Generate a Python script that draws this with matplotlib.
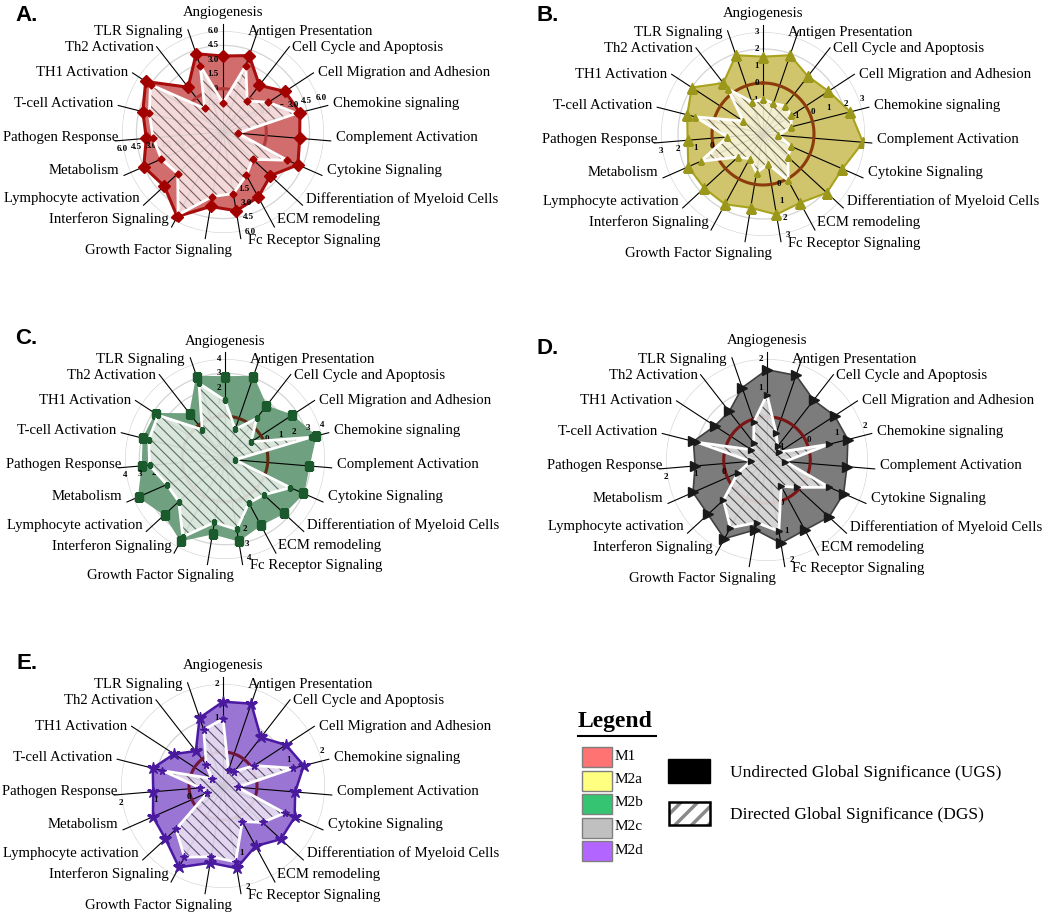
import numpy as np
import matplotlib
matplotlib.use("Agg")
import matplotlib.pyplot as plt
from matplotlib.patches import Rectangle

plt.rcParams['font.family'] = ['Liberation Serif', 'DejaVu Serif']
plt.rcParams['hatch.linewidth'] = 0.8

categories = ["Angiogenesis", "Antigen Presentation", "Cell Cycle and Apoptosis",
              "Cell Migration and Adhesion", "Chemokine signaling", "Complement Activation",
              "Cytokine Signaling", "Differentiation of Myeloid Cells", "ECM remodeling",
              "Fc Receptor Signaling", "Growth Factor Signaling", "Interferon Signaling",
              "Lymphocyte activation", "Metabolism", "Pathogen Response", "T-cell Activation",
              "TH1 Activation", "Th2 Activation", "TLR Signaling"]

# undirected / directed global significance per macrophage subtype
m1_ugs = [3.4, 3.9, 1.65, 3.2, 3.75, 3.5, 4.0, 2.2, 3.2, 3.8, 3.35, 5.5, 3.8, 4.5, 3.5, 4.1, 5.1, 1.4, 4.1]
m1_dgs = [-1.5, 2.8, -0.4, 1.15, 3.4, -2.95, 2.8, -0.3, 0.6, 2.0, 2.3, 5.3, 1.9, 2.5, 2.8, 3.4, 4.5, -1.4, 2.8]

m2a_ugs = [1.55, 1.9, 1.3, 1.6, 2.3, 2.9, 2.1, 2.1, 1.6, 1.8, 1.4, 1.7, 1.7, 1.8, 1.45, 1.6, 2.0, 0.8, 1.9]
m2a_dgs = [-0.95, -1.1, -0.9, -1.0, -1.3, -2.1, -1.2, -1.0, 0.1, -1.2, -0.7, -1.35, -1.0, 1.0, -0.9, 1.1, -1.6, 0.35, -1.0]

m2b_ugs = [2.75, 3.1, 1.7, 2.6, 3.55, 2.9, 3.0, 2.6, 2.25, 2.8, 2.3, 3.5, 2.75, 3.6, 2.8, 2.9, 2.8, 1.0, 3.1]
m2b_dgs = [1.1, -0.8, 0.6, -0.8, 3.2, -2.3, 2.0, 0.7, 0.5, 2.0, 1.5, 3.2, 1.4, 1.45, 2.3, 2.5, 2.6, -0.4, 2.6]

m2c_ugs = [1.63, 1.6, 1.13, 1.3, 1.39, 1.28, 1.4, 1.42, 1.26, 1.42, 0.95, 1.6, 1.28, 1.3, 1.0, 1.13, 0.66, 0.63, 1.15]
m2c_dgs = [0.76, -0.52, -0.9, -1.0, 0.7, -0.87, 0.85, -0.1, -0.47, 1.0, 0.7, 1.17, 0.55, -0.4, -0.93, 1.0, -0.85, -0.75, -0.1]

m2d_ugs = [1.48, 1.56, 0.81, 1.21, 1.45, 1.13, 1.3, 1.31, 1.01, 1.45, 1.29, 1.72, 1.3, 1.25, 1.06, 1.13, 0.72, 0.3, 1.12]
m2d_dgs = [0.97, -0.5, -0.46, 0.1, 1.13, -0.57, 0.98, 0.58, 0.19, 1.26, 1.11, 1.38, 0.88, -0.5, -0.33, 0.84, -0.6, -0.2, 0.75]

# radial scales
m1_ticks = [-3.0, -1.5, 0.0, 1.5, 3.0, 4.5, 6.0]
m2a_ticks = [-2, -1, 0, 1, 2, 3]
m2b_ticks = [-2, -1, 0, 1, 2, 3, 4]
m2c_ticks = [-1, 0, 1, 2]
m2d_ticks = [0, 1, 2]

legend_names = ["M1", "M2a", "M2b", "M2c", "M2d"]
legend_colors = ["#ff7373", "#ffff80", "#35c472", "#c0c0c0", "#b266ff"]

FIG_W, FIG_H = 1050, 915

# label placement tweaks for some spokes: index -> (x offset, y offset, ha), in axes fraction
LABEL_NUDGE = {0: (0.0, 0.59, "center"), 1: (0.125, None, "left"), 9: (0.125, -0.535, "left"),
               10: (0.045, -0.585, "right"), 14: (-0.52, None, "right"), 18: (-0.2, None, "right")}


def panel_axes(fig, cx, cy, r):
    rect = [(cx - r) / FIG_W, 1 - (cy + r) / FIG_H, 2 * r / FIG_W, 2 * r / FIG_H]
    return fig.add_axes(rect, projection="polar")


def draw_radar(ax, ugs, dgs, rmin, ticks, fmt, st):
    n = len(categories)
    rmax = ticks[-1]
    theta = np.arange(n) * 2 * np.pi / n
    tc = np.append(theta, theta[0])
    full = np.linspace(0, 2 * np.pi, 400)

    ax.set_theta_zero_location("N")
    ax.set_theta_direction(-1)
    ax.set_ylim(rmin, rmax)
    ax.axis("off")

    for t in ticks:
        ax.plot(full, np.full_like(full, t), color="#d4d4d4", lw=0.9, zorder=0)

    u = np.append(ugs, ugs[0])
    ax.fill(tc, u, color=st["fill"], lw=0, zorder=1)

    ext = rmax + 0.07 * (rmax - rmin)
    for t in theta:
        ax.plot([t, t], [rmin, ext], color="black", lw=0.8, zorder=2, clip_on=False)

    ax.plot(full, np.zeros_like(full), color=st["ring"], lw=2.2, zorder=2.5)
    ax.plot(tc, u, color=st["edge"], lw=st["lw"], zorder=3)
    ax.plot(theta, ugs, ls="none", marker=st["marker"], ms=st["ms"], color=st["mcolor"], zorder=3.5)

    # scale numbers on four of the spokes
    spots = [(0, (-3, 0), "right", "center"), (4, (0, 4), "center", "bottom"),
             (9, (4, 0), "left", "center"), (14, (0, -3), "center", "top")]
    for idx, off, ha, va in spots:
        for t in ticks:
            if t < 0 and idx in (9, 14):
                continue
            ax.annotate(fmt.format(t), xy=(theta[idx], t), xytext=off, textcoords="offset points",
                        ha=ha, va=va, fontsize=6.5, fontweight="bold", zorder=3.6)

    d = np.append(dgs, dgs[0])
    ax.fill(tc, d, facecolor=st["dfill"], edgecolor=st["hatch"], hatch="\\\\\\", lw=0,
            alpha=0.88, zorder=4)
    ax.plot(tc, d, color="white", lw=2.0, zorder=5)
    ax.plot(theta, dgs, ls="none", marker=st["marker"], ms=st["ms"] * 0.6, color=st["mcolor"], zorder=6)

    for i, (t, name) in enumerate(zip(theta, categories)):
        s, c = np.sin(t), np.cos(t)
        x = 0.5 + 0.56 * s
        y = 0.5 + 0.51 * c + 0.015
        ha = "left" if s > 0 else "right"
        if i in LABEL_NUDGE:
            nx, ny, ha = LABEL_NUDGE[i]
            x = 0.5 + nx
            if ny is not None:
                y = 0.5 + ny
        ax.text(x, y, name, transform=ax.transAxes, ha=ha, va="center", fontsize=10.6)


styles = {
    "M1": dict(fill="#d26d6d", edge="#a80d0d", lw=2.2, marker="D", ms=6, mcolor="#a30000",
               dfill="#f8e9e9", hatch="#6a4a4a", ring="#b23a3a"),
    "M2a": dict(fill="#d0c56c", edge="#a9a21c", lw=1.5, marker="^", ms=7, mcolor="#9a971a",
                dfill="#f8f5df", hatch="#5e5834", ring="#8c3c0c"),
    "M2b": dict(fill="#6fa07f", edge="#6fa07f", lw=1.0, marker="s", ms=5.5, mcolor="#1b5a2c",
                dfill="#e7f0e9", hatch="#4c5e50", ring="#5e2a10"),
    "M2c": dict(fill="#7c7c7c", edge="#404040", lw=1.2, marker=">", ms=6.5, mcolor="#1a1a1a",
                dfill="#e2e2e2", hatch="#383838", ring="#7a1515"),
    "M2d": dict(fill="#9b75d3", edge="#4a1aa3", lw=1.8, marker="*", ms=9, mcolor="#4a1a9e",
                dfill="#ebe3f4", hatch="#4a3a60", ring="#70163c"),
}

fig = plt.figure(figsize=(FIG_W / 100, FIG_H / 100), dpi=100)

# full-figure overlay in pixel coordinates for letters and legend
lax = fig.add_axes([0, 0, 1, 1])
lax.set_xlim(0, FIG_W)
lax.set_ylim(FIG_H, 0)
lax.axis("off")

draw_radar(panel_axes(fig, 223, 132, 101), m1_ugs, m1_dgs, -4.5, m1_ticks, "{:.1f}", styles["M1"])
draw_radar(panel_axes(fig, 763, 134, 102), m2a_ugs, m2a_dgs, -3, m2a_ticks, "{:d}", styles["M2a"])
draw_radar(panel_axes(fig, 225, 459, 100), m2b_ugs, m2b_dgs, -3, m2b_ticks, "{:d}", styles["M2b"])
draw_radar(panel_axes(fig, 767, 460, 101), m2c_ugs, m2c_dgs, -1.5, m2c_ticks, "{:d}", styles["M2c"])
draw_radar(panel_axes(fig, 223, 786, 102), m2d_ugs, m2d_dgs, -1, m2d_ticks, "{:d}", styles["M2d"])

for letter, x, y in [("A.", 15, 5), ("B.", 537, 5), ("C.", 15, 328), ("D.", 537, 338), ("E.", 16, 653)]:
    lax.text(x, y, letter, fontfamily="Liberation Sans", fontweight="bold", fontsize=16, ha="left", va="top")

# legend
lax.text(578, 722, "Legend", fontsize=17, fontweight="bold", ha="left", va="center")
lax.plot([578, 656], [735.5, 735.5], color="black", lw=1.5)
for i, (name, col) in enumerate(zip(legend_names, legend_colors)):
    top = 747 + i * 23.5
    lax.add_patch(Rectangle((582, top), 30, 20, facecolor=col, edgecolor="#7f7f7f", lw=1))
    lax.text(615, top + 9, name, fontsize=11, ha="left", va="center")

lax.add_patch(Rectangle((668, 759), 42, 24, facecolor="black", edgecolor="black", lw=1))
with plt.rc_context({"hatch.linewidth": 2.5}):
    lax.add_patch(Rectangle((669, 802), 41, 23, facecolor="white", edgecolor="#8a8a8a",
                            hatch="//", lw=0))
lax.add_patch(Rectangle((669, 802), 41, 23, fill=False, edgecolor="black", lw=1.8))
lax.text(730, 773, "Undirected Global Significance (UGS)", fontsize=12.5, ha="left", va="center")
lax.text(730, 815, "Directed Global Significance (DGS)", fontsize=12.5, ha="left", va="center")

fig.savefig("out.png", dpi=100)
